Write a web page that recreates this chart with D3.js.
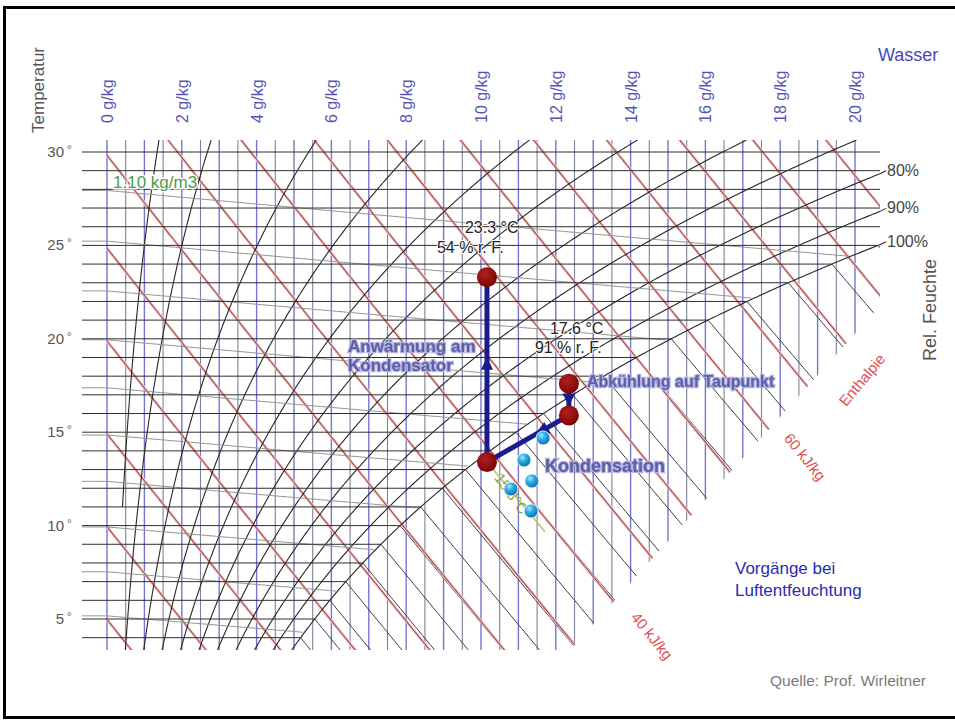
<!DOCTYPE html>
<html>
<head>
<meta charset="utf-8">
<script src="https://cdn.jsdelivr.net/npm/d3@7"></script>
<style>
  body { margin: 0; background: #fff; }
  svg { display: block; }
  text { font-family: "Liberation Sans", Arial, Helvetica, sans-serif; }
</style>
</head>
<body>
<svg id="chart" width="955" height="723"></svg>
<script>
// ---------- chart values ----------
const waterLabels = [0, 2, 4, 6, 8, 10, 12, 14, 16, 18, 20];            // g/kg
const tempLabels = [5, 10, 15, 20, 25, 30];                              // °C
const isoTemps = [4, 5, 6, 7, 8, 9, 10, 11, 12, 13, 14, 15, 16, 17, 18,
                  19, 20, 21, 22, 23, 24, 25, 26, 27, 28, 29, 30];       // °C grid
const rhLevels = [0.05, 0.1, 0.2, 0.3, 0.4, 0.5, 0.6, 0.7, 0.8, 0.9, 1.0];
const rhLabelled = [0.8, 0.9, 1.0];
const rhLabelText = ["80%", "90%", "100%"];
const enthalpyLevels = [5, 10, 15, 20, 25, 30, 35, 40, 45, 50, 55, 60, 65, 70, 75, 80]; // kJ/kg
const densityLevels = [1.10, 1.11, 1.12, 1.13, 1.14, 1.15, 1.16, 1.17, 1.18, 1.19];   // kg/m3

// process states: cooled air, dew point, end of condensation, re-warmed air
const stateX = [12.35, 12.35, 10.16, 10.16];   // g/kg
const stateT = [17.6, 15.9, 13.4, 23.3];       // °C
// condensate droplets
const dropX = [11.66, 11.15, 11.36, 10.80, 11.34];
const dropT = [14.69, 13.51, 12.39, 11.96, 10.78];

// ---------- psychrometrics ----------
const P = 98500;                                    // Pa
const psat = T => 611.2 * Math.exp(17.62 * T / (243.12 + T));
const xOf = (T, phi) => 622 * phi * psat(T) / (P - phi * psat(T));   // g/kg
const hOf = (T, xg) => { const k = xg / 1000; return 1.006 * T + k * (2501 + 1.86 * T); };
const tOfH = (h, xg) => { const k = xg / 1000; return (h - 2501 * k) / (1.006 + 1.86 * k); };
const densityConst = 331.2;                         // p / R_air
const tOfRho = (rho, xg) => { const k = Math.max(0, xg) / 1000;
  return densityConst / rho * (1 + k) / (1 + 1.608 * k) - 273.15; };
function solve(f, target, lo, hi) {
  for (let i = 0; i < 60; i++) { const m = (lo + hi) / 2; if (f(m) < target) lo = m; else hi = m; }
  return (lo + hi) / 2;
}

// ---------- scales ----------
const x = d3.scaleLinear().domain([0, 20]).range([107, 855]);
const y = d3.scaleLinear().domain([5, 30]).range([619, 152]);
const xMax = x.invert(880), tTop = y.invert(140), tBot = y.invert(650);
const leftPx = 82;

const svg = d3.select("#chart");
const defs = svg.append("defs");
const clipPts = [[leftPx, 140], [880, 140], [880, 306], [570, 650], [leftPx, 650]];
defs.append("clipPath").attr("id", "plot").append("polygon")
  .attr("points", clipPts.map(p => p.join(",")).join(" "));

const mg = defs.append("radialGradient").attr("id", "markGrad").attr("cx", "40%").attr("cy", "35%").attr("r", "65%");
mg.append("stop").attr("offset", "0%").attr("stop-color", "#b52020");
mg.append("stop").attr("offset", "100%").attr("stop-color", "#7a0505");
const dg = defs.append("radialGradient").attr("id", "dropGrad").attr("cx", "38%").attr("cy", "32%").attr("r", "70%");
dg.append("stop").attr("offset", "0%").attr("stop-color", "#9be6ff");
dg.append("stop").attr("offset", "45%").attr("stop-color", "#2aa8e0");
dg.append("stop").attr("offset", "100%").attr("stop-color", "#0a6ea8");
const soft = defs.append("filter").attr("id", "soft");
soft.append("feGaussianBlur").attr("stdDeviation", 0.45);

const line = d3.line().x(d => x(d[0])).y(d => y(d[1]));

// frame (top, left, bottom)
svg.append("path").attr("d", "M955,7.5 H4.5 V717.5 H955").attr("fill", "none")
  .attr("stroke", "#000").attr("stroke-width", 3);

const grid = svg.append("g").attr("clip-path", "url(#plot)");

// water content lines every 0.5 g/kg
d3.range(0, 20.01, 0.5).forEach(v => {
  const major = Math.abs(v - Math.round(v)) < 1e-6;
  grid.append("line").attr("x1", x(v)).attr("x2", x(v)).attr("y1", 140).attr("y2", 650)
    .attr("stroke", major ? "#7676cc" : "#80809a").attr("stroke-width", major ? 1.4 : 1.1);
});

// density lines
densityLevels.forEach(rho => {
  const pts = [];
  for (let xg = x.invert(leftPx); xg <= xMax; xg += 0.1) {
    const T = tOfRho(rho, xg);
    if (xg > 0 && xg > xOf(T, 1)) break;
    pts.push([xg, T]);
  }
  svg.append("path").attr("d", line(pts)).attr("fill", "none")
    .attr("stroke", "#8e978e").attr("stroke-width", 1);
});

// isotherms (unsaturated region)
isoTemps.forEach(T => {
  const xe = Math.min(xOf(T, 1), xMax);
  svg.append("line").attr("x1", leftPx).attr("x2", x(xe)).attr("y1", y(T)).attr("y2", y(T))
    .attr("stroke", "#2e2e2e").attr("stroke-width", 1);
});

// isotherms in the fog region
isoTemps.filter(T => xOf(T, 1) < xMax).forEach(T => {
  const xs = xOf(T, 1), h0 = hOf(T, xs), pts = [];
  for (let xg = xs; xg <= xMax + 0.2; xg += 0.1) {
    const h = h0 + (xg - xs) / 1000 * 4.19 * T;
    pts.push([xg, tOfH(h, xg)]);
  }
  grid.append("path").attr("d", line(pts)).attr("fill", "none")
    .attr("stroke", "#3c3c44").attr("stroke-width", 1);
});

// enthalpy lines
enthalpyLevels.forEach(h => {
  const pts = [];
  for (let xg = 0; xg <= xMax + 0.2; xg += 0.1) pts.push([xg, tOfH(h, xg)]);
  grid.append("path").attr("d", line(pts)).attr("fill", "none")
    .attr("stroke", "#f2cccc").attr("stroke-width", 3);
  grid.append("path").attr("d", line(pts)).attr("fill", "none")
    .attr("stroke", "#a84a4a").attr("stroke-width", 1.1);
});

// relative humidity curves
const rhEnds = {};
rhLevels.forEach(phi => {
  const pts = [];
  const t0 = phi < 0.1 ? 11 : tBot;
  let ended = false;
  for (let T = t0; T <= tTop; T += 0.1) {
    const xv = xOf(T, phi);
    if (xv > xMax) {
      const Te = solve(t => xOf(t, phi), xMax, -20, 60);
      pts.push([xMax, Te]); rhEnds[phi] = Te; ended = true; break;
    }
    pts.push([xv, T]);
  }
  if (!ended) pts.push([xOf(tTop, phi), tTop]);
  grid.append("path").attr("d", line(pts)).attr("fill", "none")
    .attr("stroke", "#262626").attr("stroke-width", 1.1);
});

// labels of the humidity curves
rhLabelled.forEach((phi, i) => {
  const yy = y(rhEnds[phi]);
  svg.append("line").attr("x1", 880).attr("x2", 886).attr("y1", yy).attr("y2", yy - 3)
    .attr("stroke", "#262626").attr("stroke-width", 1.1);
  svg.append("text").attr("x", 887).attr("y", yy + 2).attr("font-size", 16).attr("fill", "#444")
    .text(rhLabelText[i]);
});

// axis labels
tempLabels.forEach(T => {
  svg.append("text").attr("x", 64).attr("y", y(T) + 5).attr("text-anchor", "end")
    .attr("font-size", 15).attr("fill", "#555").text(T);
  svg.append("text").attr("x", 67).attr("y", y(T) + 2).attr("font-size", 12).attr("fill", "#666").text("°");
});
waterLabels.forEach(v => {
  svg.append("text").attr("transform", `translate(${x(v) + 6},123) rotate(-90)`)
    .attr("font-size", 16).attr("fill", "#5454b6").text(`${v} g/kg`);
});
svg.append("text").attr("transform", "translate(44,90) rotate(-90)").attr("text-anchor", "middle")
  .attr("font-size", 17).attr("fill", "#555").text("Temperatur");
svg.append("text").attr("x", 878).attr("y", 61).attr("font-size", 18).attr("fill", "#4848b4").text("Wasser");
svg.append("text").attr("transform", "translate(936,310) rotate(-90)").attr("text-anchor", "middle")
  .attr("font-size", 18).attr("fill", "#555").text("Rel. Feuchte");

const redLabel = (px, py, rot, txt) => svg.append("text")
  .attr("transform", `translate(${px},${py}) rotate(${rot})`).attr("text-anchor", "middle")
  .attr("dy", "0.35em").attr("font-size", 15).attr("fill", "#e04e4e")
  .attr("stroke", "#fff").attr("stroke-width", 3).attr("paint-order", "stroke").text(txt);
redLabel(652, 636, 51, "40 kJ/kg");
redLabel(805, 457, 51, "60 kJ/kg");
redLabel(862, 380, -50, "Enthalpie");

svg.append("text").attr("x", 113).attr("y", 188).attr("font-size", 17).attr("fill", "#4c9c4c")
  .attr("stroke", "#fff").attr("stroke-width", 3).attr("paint-order", "stroke").text("1.10 kg/m3");

// ---------- process ----------
const P0 = [x(stateX[0]), y(stateT[0])], P1 = [x(stateX[1]), y(stateT[1])];
const P2 = [x(stateX[2]), y(stateT[2])], P3 = [x(stateX[3]), y(stateT[3])];

// isotherm through the end of condensation (fog region)
const fogPts = [];
{
  const xs = stateX[2], T = stateT[2], h0 = hOf(T, xs);
  for (let xg = xs; xg <= xs + 1.6; xg += 0.05) fogPts.push([xg, tOfH(h0 + (xg - xs) / 1000 * 4.19 * T, xg)]);
  svg.append("path").attr("d", line(fogPts)).attr("fill", "none").attr("stroke", "#b6c870").attr("stroke-width", 1.6);
}

const proc = svg.append("g");
const arrowColor = "#1b1b8e";
[[P0, P1], [P1, P2], [P2, P3]].forEach(([a, b]) => {
  proc.append("line").attr("x1", a[0]).attr("y1", a[1]).attr("x2", b[0]).attr("y2", b[1])
    .attr("stroke", arrowColor).attr("stroke-width", 5);
});
function head(a, b, t, len, w) {
  const dx = b[0] - a[0], dy = b[1] - a[1], L = Math.hypot(dx, dy), ux = dx / L, uy = dy / L;
  const tip = [a[0] + dx * t, a[1] + dy * t];
  const base = [tip[0] - ux * len, tip[1] - uy * len];
  const pts = [tip, [base[0] - uy * w / 2, base[1] + ux * w / 2], [base[0] + uy * w / 2, base[1] - ux * w / 2]];
  proc.append("polygon").attr("points", pts.map(p => p.join(",")).join(" ")).attr("fill", arrowColor);
}
head(P0, P1, 1 - 10 / Math.hypot(P1[0] - P0[0], P1[1] - P0[1]), 12, 13);
head(P1, P2, 0.42, 15, 13);
head(P2, P3, 0.57, 13, 12);

// label of the fog isotherm
{
  const mid = fogPts[Math.floor(fogPts.length * 0.45)];
  svg.append("text").attr("transform", `translate(${x(mid[0]) - 6},${y(mid[1]) + 3}) rotate(54)`)
    .attr("text-anchor", "middle").attr("font-size", 15).attr("fill", "#86a83c").text("15.3°C");
}

// droplets
dropX.forEach((dx, i) => {
  svg.append("circle").attr("cx", x(dx)).attr("cy", y(dropT[i])).attr("r", 7)
    .attr("fill", "url(#dropGrad)").attr("stroke", "#e6f6ff").attr("stroke-width", 1);
});
// states
stateX.forEach((sx, i) => {
  svg.append("circle").attr("cx", x(sx)).attr("cy", y(stateT[i])).attr("r", 10)
    .attr("fill", "url(#markGrad)");
});

// annotations
const note = (px, py, txt) => svg.append("text").attr("x", px).attr("y", py).attr("font-size", 16)
  .attr("fill", "#222").attr("stroke", "#fff").attr("stroke-width", 2).attr("paint-order", "stroke").text(txt);
note(P3[0] - 22, P3[1] - 44, "23.3 °C");
note(P3[0] - 50, P3[1] - 24, "54 % r. F.");
note(P0[0] - 19, P0[1] - 50, "17.6 °C");
note(P0[0] - 34, P0[1] - 31, "91 % r. F.");

const blueLabel = (px, py, size, txt) => svg.append("text").attr("x", px).attr("y", py)
  .attr("font-size", size).attr("font-weight", "bold").attr("fill", "#5d5da8")
  .attr("stroke", "#b4b4e0").attr("stroke-width", 2.5).attr("paint-order", "stroke")
  .attr("filter", "url(#soft)").text(txt);
blueLabel(348, 352, 17, "Anwärmung am");
blueLabel(348, 371, 17, "Kondensator");
blueLabel(587, 387, 16, "Abkühlung auf Taupunkt");
blueLabel(545, 472, 18, "Kondensation");

svg.append("text").attr("x", 735).attr("y", 574).attr("font-size", 17).attr("fill", "#2b2bb0").text("Vorgänge bei");
svg.append("text").attr("x", 735).attr("y", 596).attr("font-size", 17).attr("fill", "#2b2bb0").text("Luftentfeuchtung");
svg.append("text").attr("x", 770).attr("y", 686).attr("font-size", 15.5).attr("fill", "#7a7a7a").text("Quelle: Prof. Wirleitner");
</script>
</body>
</html>
